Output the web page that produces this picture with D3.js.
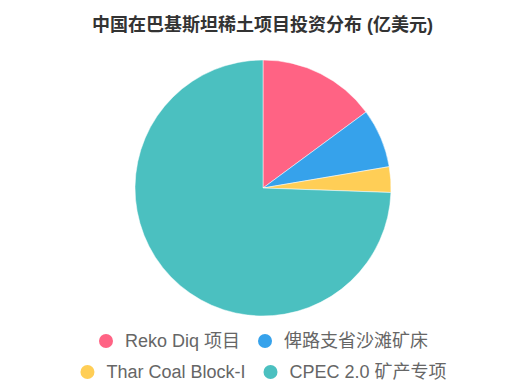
<!DOCTYPE html>
<html>
<head>
<meta charset="utf-8">
<script src="https://cdn.jsdelivr.net/npm/d3@7"></script>
<style>
  html, body { margin: 0; padding: 0; background: #fff; }
  svg { display: block; }
  text { font-family: "Liberation Sans", "Noto Sans CJK SC", sans-serif; }
</style>
</head>
<body>
<svg id="chart" width="525" height="392"></svg>
<script>
const title = "中国在巴基斯坦稀土项目投资分布 (亿美元)";
const categories = ["Reko Diq 项目", "俾路支省沙滩矿床", "Thar Coal Block-I", "CPEC 2.0 矿产专项"];
const values = [60, 30, 13, 300];
const colors = ["#FF6384", "#36A2EB", "#FFCE56", "#4BC0C0"];

const W = 525, H = 392;
const svg = d3.select("#chart");

svg.append("text")
  .attr("x", W / 2).attr("y", 25)
  .attr("dy", "0.35em")
  .attr("text-anchor", "middle")
  .attr("font-size", 18).attr("font-weight", "bold")
  .attr("fill", "#333")
  .text(title);

const cx = 263, cy = 188, r = 128;
const pie = d3.pie().sort(null).value(d => d)(values);
const arc = d3.arc().innerRadius(0).outerRadius(r);
const color = d3.scaleOrdinal().domain(categories).range(colors);

svg.append("g").attr("transform", `translate(${cx},${cy})`)
  .selectAll("path").data(pie).join("path")
  .attr("d", arc)
  .attr("fill", (d, i) => color(categories[i]))
  .attr("stroke", "#fff").attr("stroke-width", 0.5);

// legend
const fs = 18, dot = 7, gapDot = 12, gapItem = 18, maxW = 480;
const measure = svg.append("text").attr("font-size", fs).attr("visibility", "hidden");
const items = categories.map((c, i) => {
  measure.text(c);
  const tw = measure.node().getComputedTextLength();
  return { label: c, color: color(c), w: dot * 2 + gapDot + tw };
});
measure.remove();

const rows = [];
let cur = [], curW = 0;
items.forEach(it => {
  const add = (cur.length ? gapItem : 0) + it.w;
  if (cur.length && curW + add > maxW) { rows.push({ items: cur, w: curW }); cur = []; curW = 0; }
  curW += (cur.length ? gapItem : 0) + it.w;
  cur.push(it);
});
if (cur.length) rows.push({ items: cur, w: curW });

const rowY = [341, 372];
const lg = svg.append("g");
rows.forEach((row, ri) => {
  let x = W / 2 - row.w / 2 + 1;
  const y = rowY[ri] !== undefined ? rowY[ri] : 341 + ri * 31;
  row.items.forEach(it => {
    lg.append("circle").attr("cx", x + dot).attr("cy", y).attr("r", dot).attr("fill", it.color);
    lg.append("text").attr("x", x + dot * 2 + gapDot).attr("y", y).attr("dy", "0.35em")
      .attr("font-size", fs).attr("fill", "#666").text(it.label);
    x += it.w + gapItem;
  });
});
</script>
</body>
</html>
